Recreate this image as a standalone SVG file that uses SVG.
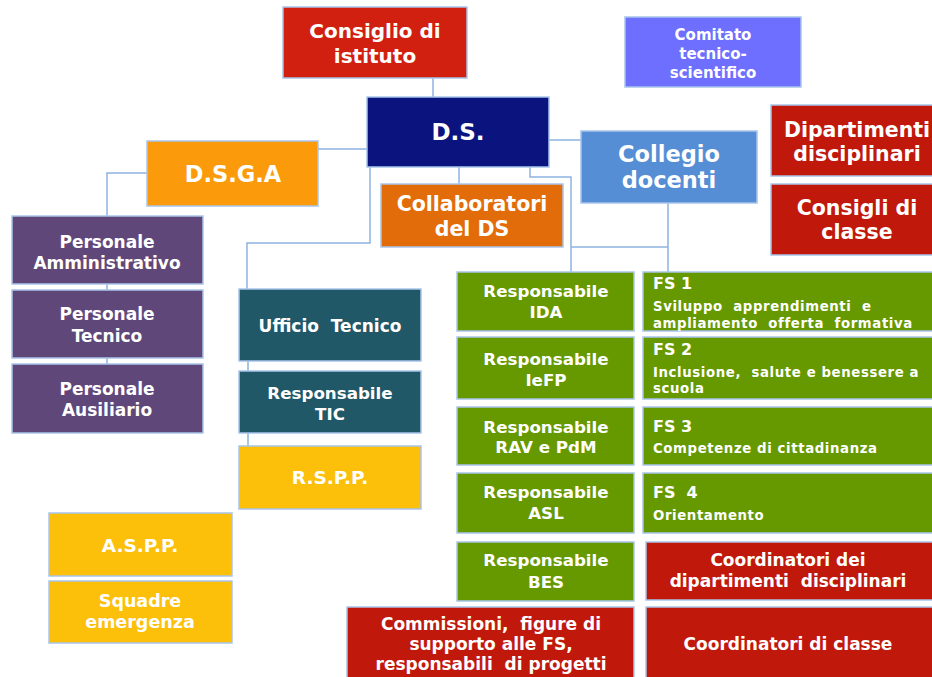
<svg xmlns="http://www.w3.org/2000/svg" width="932" height="677" viewBox="0 0 932 677">
<style>
rect.b{stroke:#a9c5ea;stroke-width:1.5}
text{font-family:"DejaVu Sans","Verdana",sans-serif;font-weight:bold;fill:#ffffff;text-anchor:middle;white-space:pre}
text.l{text-anchor:start}
text.s{font-size:13.3px;letter-spacing:0.6px}
text.r{font-size:16.7px}
#connectors path{fill:none;stroke:#8db2e0;stroke-width:1.5}
.red1{fill:#d11f10}.navy{fill:#0b137f}.amber{fill:#fb9a0b}.orng{fill:#e36c0a}
.blue{fill:#558ed5}.viol{fill:#6e6eff}.red2{fill:#c0180b}.purp{fill:#5f4879}
.teal{fill:#215868}.yel{fill:#fdc00a}.grn{fill:#669900}
</style>
<rect width="932" height="677" fill="#ffffff"/>
<g id="connectors">
<path d="M433 78V97"/>
<path d="M318 149H367"/>
<path d="M147 173H107V216"/>
<path d="M107 284V290M107 358V364"/>
<path d="M459 167V184"/>
<path d="M370 167V243H247V289"/>
<path d="M248 361V371M248 433V446"/>
<path d="M549 140H581"/>
<path d="M530 167V177H571V272"/>
<path d="M571 247H668"/>
<path d="M668 203V272"/>
</g>
<g id="consiglio-istituto"><rect class="b red1" x="283" y="7" width="184" height="71"/>
<text x="375" y="38" font-size="20">Consiglio di</text><text x="375" y="63" font-size="20">istituto</text></g>
<g id="ds"><rect class="b navy" x="367" y="97" width="182" height="70"/>
<text x="458" y="140" font-size="23">D.S.</text></g>
<g id="dsga"><rect class="b amber" x="147" y="141" width="171" height="65"/>
<text x="233" y="182" font-size="22.5">D.S.G.A</text></g>
<g id="collaboratori"><rect class="b orng" x="381" y="184" width="182" height="63"/>
<text x="472" y="211" font-size="20.5">Collaboratori</text><text x="472" y="236" font-size="20.5">del DS</text></g>
<g id="comitato"><rect class="b viol" x="625" y="17" width="176" height="70"/>
<text x="713" y="40" font-size="15">Comitato</text><text x="713" y="59" font-size="15">tecnico-</text><text x="713" y="78" font-size="15">scientifico</text></g>
<g id="collegio"><rect class="b blue" x="581" y="131" width="176" height="72"/>
<text x="669" y="162" font-size="22.5">Collegio</text><text x="669" y="188" font-size="22.5">docenti</text></g>
<g id="dipartimenti"><rect class="b red2" x="771" y="105" width="175" height="71"/>
<text x="857" y="137" font-size="20.5">Dipartimenti</text><text x="857" y="161" font-size="20.5">disciplinari</text></g>
<g id="consigli-classe"><rect class="b red2" x="771" y="184" width="175" height="71"/>
<text x="857" y="215" font-size="20.5">Consigli di</text><text x="857" y="239" font-size="20.5">classe</text></g>
<g id="pers-amm"><rect class="b purp" x="12" y="216" width="191" height="68"/>
<text x="107" y="248" font-size="17">Personale</text><text x="107" y="269" font-size="17">Amministrativo</text></g>
<g id="pers-tec"><rect class="b purp" x="12" y="290" width="191" height="68"/>
<text x="107" y="320" font-size="17">Personale</text><text x="107" y="342" font-size="17">Tecnico</text></g>
<g id="pers-aus"><rect class="b purp" x="12" y="364" width="191" height="69"/>
<text x="107" y="395" font-size="17">Personale</text><text x="107" y="416" font-size="17">Ausiliario</text></g>
<g id="ufficio-tecnico"><rect class="b teal" x="239" y="289" width="182" height="72"/>
<text x="330" y="332" font-size="17">Ufficio  Tecnico</text></g>
<g id="resp-tic"><rect class="b teal" x="239" y="371" width="182" height="62"/>
<text class="r" x="330" y="399">Responsabile</text><text class="r" x="330" y="420">TIC</text></g>
<g id="rspp"><rect class="b yel" x="239" y="446" width="182" height="63"/>
<text x="330" y="484" font-size="18.5">R.S.P.P.</text></g>
<g id="aspp"><rect class="b yel" x="49" y="513" width="183" height="63"/>
<text x="140" y="552" font-size="18.5">A.S.P.P.</text></g>
<g id="squadre"><rect class="b yel" x="49" y="581" width="183" height="62"/>
<text x="140" y="607" font-size="17.5">Squadre</text><text x="140" y="628" font-size="17.5">emergenza</text></g>
<g id="resp-ida"><rect class="b grn" x="457" y="272" width="177" height="59"/>
<text class="r" x="546" y="297">Responsabile</text><text class="r" x="546" y="318">IDA</text></g>
<g id="resp-iefp"><rect class="b grn" x="457" y="337" width="177" height="62"/>
<text class="r" x="546" y="365">Responsabile</text><text class="r" x="546" y="386">IeFP</text></g>
<g id="resp-rav"><rect class="b grn" x="457" y="407" width="177" height="58"/>
<text class="r" x="546" y="433">Responsabile</text><text class="r" x="546" y="453">RAV e PdM</text></g>
<g id="resp-asl"><rect class="b grn" x="457" y="473" width="177" height="60"/>
<text class="r" x="546" y="498">Responsabile</text><text class="r" x="546" y="519">ASL</text></g>
<g id="resp-bes"><rect class="b grn" x="457" y="542" width="177" height="59"/>
<text class="r" x="546" y="566">Responsabile</text><text class="r" x="546" y="588">BES</text></g>
<g id="fs1"><rect class="b grn" x="643" y="272" width="300" height="59"/>
<text class="l" x="653" y="289" font-size="16">FS 1</text>
<text class="l s" x="653" y="311">Sviluppo  apprendimenti  e</text>
<text class="l s" x="653" y="328">ampliamento  offerta  formativa</text></g>
<g id="fs2"><rect class="b grn" x="643" y="337" width="300" height="62"/>
<text class="l" x="653" y="355" font-size="16">FS 2</text>
<text class="l s" x="653" y="377">Inclusione,  salute e benessere a</text>
<text class="l s" x="653" y="393">scuola</text></g>
<g id="fs3"><rect class="b grn" x="643" y="407" width="300" height="58"/>
<text class="l" x="653" y="432" font-size="16">FS 3</text>
<text class="l s" x="653" y="453">Competenze di cittadinanza</text></g>
<g id="fs4"><rect class="b grn" x="643" y="473" width="300" height="60"/>
<text class="l" x="653" y="498" font-size="16">FS  4</text>
<text class="l s" x="653" y="520">Orientamento</text></g>
<g id="coord-dip"><rect class="b red2" x="646" y="542" width="300" height="58"/>
<text x="788" y="566" font-size="17">Coordinatori dei</text><text x="788" y="587" font-size="17">dipartimenti  disciplinari</text></g>
<g id="commissioni"><rect class="b red2" x="347" y="607" width="287" height="75"/>
<text x="491" y="630" font-size="17">Commissioni,  figure di</text><text x="491" y="650" font-size="17">supporto alle FS,</text><text x="491" y="670" font-size="17">responsabili  di progetti</text></g>
<g id="coord-classe"><rect class="b red2" x="646" y="607" width="300" height="75"/>
<text x="788" y="650" font-size="17">Coordinatori di classe</text></g>
</svg>
